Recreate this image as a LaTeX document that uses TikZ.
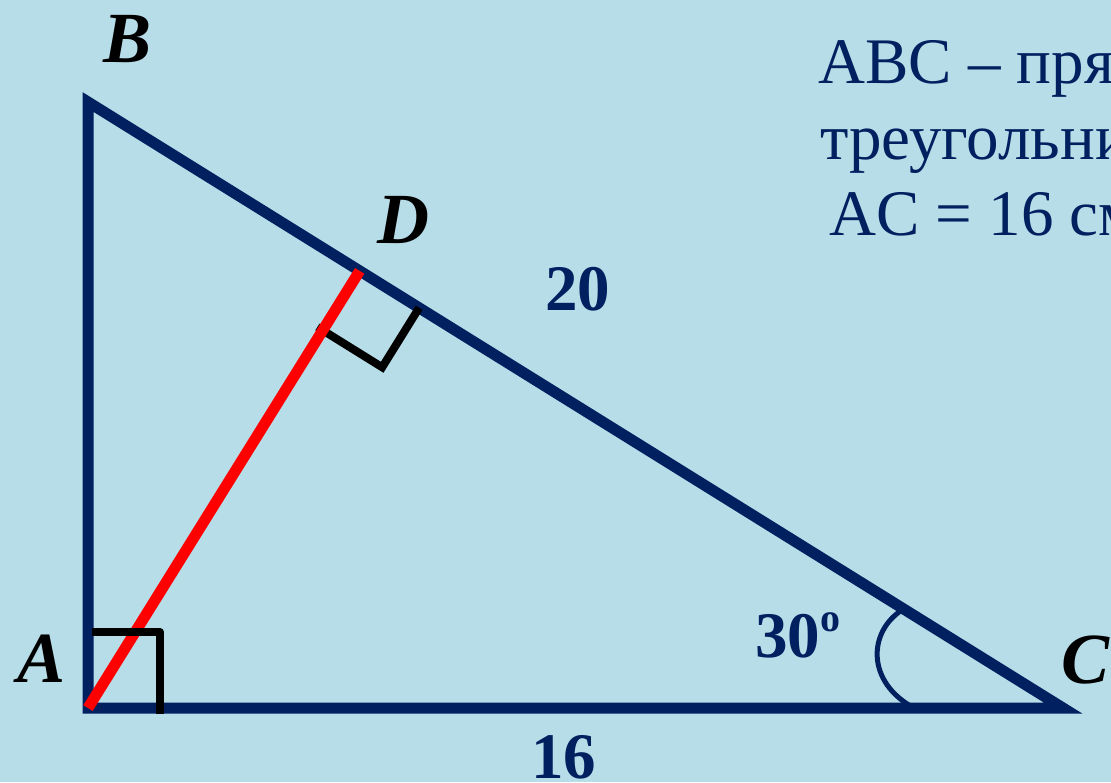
\documentclass[tikz,border=0pt]{standalone}
\usepackage{fontspec}
\setmainfont{Liberation Serif}
\usetikzlibrary{calc}
\definecolor{bgblue}{HTML}{B7DDE8}
\definecolor{navy}{HTML}{002060}
\begin{document}
\begin{tikzpicture}[x=1pt,y=-1pt,
  tri/.style={draw=navy,line width=11pt,line join=miter},
  altline/.style={draw=red,line width=11pt},
  rmark/.style={draw=black,line width=8pt},
  anglearc/.style={draw=navy,line width=5pt},
  vlabel/.style={inner sep=0pt,anchor=base west,text=black,font=\fontsize{72}{80}\selectfont\bfseries\itshape},
  numlabel/.style={inner sep=0pt,anchor=base west,text=navy,font=\fontsize{65}{72}\selectfont\bfseries},
  info/.style={inner sep=0pt,anchor=base west,text=navy,font=\fontsize{65}{72}\selectfont}]
\useasboundingbox (0,0) rectangle (1111,782);
\fill[bgblue] (0,0) rectangle (1111,782);
\clip (0,0) rectangle (1111,782);
% vertices
\coordinate (A) at (88,708);
\coordinate (B) at (88,102);
\coordinate (C) at (1063,708);
\coordinate (D) at ($(B)!(A)!(C)$);
% triangle
\draw[tri] (B) -- (C) -- (A) -- cycle;
% right angle mark at D
\coordinate (P1) at ($(D)!70pt!(A)$);
\coordinate (P3) at ($(D)!70pt!(C)$);
\coordinate (Q) at ($(P1)+(P3)-(D)$);
\coordinate (P1e) at ($(Q)!1.09!(P1)$);
\draw[rmark] (P1e) -- (Q) -- (P3);
% altitude
\draw[altline] (A) -- (D);
% right angle mark at A
\coordinate (R1) at ($(A)+(4,-76)$);
\coordinate (R2) at ($(A)+(72,-76)$);
\coordinate (R3) at ($(A)+(72,6)$);
\draw[rmark,line join=round] (R1) -- (R2) -- (R3);
% angle arc at C
\coordinate (K1) at (902,610);
\coordinate (K2) at (914,708);
\draw[anglearc] (K1) .. controls (868,632) and (866,682) .. (K2);
% vertex labels
\node[vlabel] (lB) at (103,62) {B};
\node[vlabel] (lA) at (17,682) {A};
\node[vlabel] (lD) at (377,243) {D};
\node[vlabel] (lC) at (1061,683) {C};
% numbers
\node[numlabel] (n20) at (545,310) {20};
\node[numlabel] (n16) at (531,778) {16};
\node[numlabel] (n30) at (755,657) {30\raisebox{26pt}{\fontsize{40}{40}\selectfont o}};
% info text
\node[info] (t1) at (818,83) {ABC – прям};
\node[info] (t2) at (820,159) {треугольник};
\node[info] (t3) at (829,235) {AC = 16 см};
\end{tikzpicture}
\end{document}
